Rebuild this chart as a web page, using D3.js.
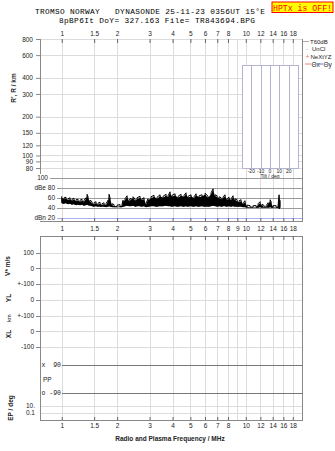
<!DOCTYPE html>
<html><head><meta charset="utf-8">
<script src="https://cdn.jsdelivr.net/npm/d3@7"></script>
<style>
body{margin:0;background:#fff}
svg{display:block}
text{font-family:"Liberation Sans",Arial,sans-serif;fill:#222}
.mono{font-family:"Liberation Mono","DejaVu Sans Mono",monospace;white-space:pre}
</style>
</head><body><svg id="c" width="335" height="451"></svg>
<script>
// ---------- data ----------
const titleLine1 = "TROMSO NORWAY   DYNASONDE 25-11-23 0356UT 15°E";
const titleLine2 = "8pBP6It DoY= 327.163 File= TR843694.BPG";
const freqTicks = [1,1.5,2,3,4,5,6,7,8,10,12,14,16,18];
const freqTicksMid = [1,1.5,2,3,4,5,6,7,8,9,10,12,14,16,18];
const freqGrid = [1,1.5,2,3,4,5,6,7,8,9,10,12,14,16,18];
const heightTicks = [800,600,400,300,200,150,120,100,90,80];
const dbTicks = [100,80,60,40,20];
const dbLabels = ["100","dBe 80","60","40","dBn 20"];
const tiltTicks = [-20,-10,0,10,20];
const velLevels = [3,2,1,0,-1,-2,-3];
const velLabels = ["100","0","+-100","0","+-100","0","-100"];
const ppLevels = [90,-90];
const ppLabels = ["x  90","o -90"];
const epLevels = [10,0.1];
const epLabels = ["10.","0.1"];
const legendNames = ["T60dB","UnCl","NeXtYZ"];
// noise trace (MHz, upper dB, lower dB)
const noiseFreq = [1.00,1.029,1.055,1.082,1.110,1.138,1.166,1.196,1.226,1.257,1.289,1.322,1.356,1.373,1.390,1.425,1.461,1.498,1.536,1.575,1.615,1.656,1.698,1.741,1.785,1.807,1.830,1.877,1.924,1.998,2.074,2.127,2.154,2.208,2.265,2.322,2.381,2.441,2.503,2.566,2.664,2.732,2.801,2.872,2.944,3.057,3.174,3.296,3.422,3.553,3.689,3.782,3.878,3.976,4.128,4.287,4.451,4.621,4.738,4.858,5.044,5.236,5.370,5.575,5.788,6.010,6.239,6.478,6.643,6.811,6.982,7.160,7.341,7.527,7.718,7.914,8.114,8.320,8.531,8.747,8.969,9.196,9.429,9.667,9.913,10.16,10.55,10.96,11.38,11.67,11.96,12.27,12.58,12.90,13.22,13.56,13.73,14.08,14.61,14.98,15.17,15.36];
const noiseHi = [63,60,61,58,60,57,59,56,57,55,57,55,60,67,62,55,52,50,52,49,51,48,50,48,55,67,60,48,46,45,46,47,55,58,64,56,59,62,57,60,63,58,60,49,58,62,65,61,66,63,67,64,72,65,68,63,67,65,70,63,66,62,68,64,66,69,63,70,78,66,64,62,60,62,66,58,61,58,64,58,56,54,56,50,54,45,44,44,44,48,52,47,44,44,50,56,52,44,44,45,66,55];
const noiseLo = [50,49,50,48,49,47,48,46,47,46,47,45,46,47,46,45,44,43,44,43,43,43,43,42,43,44,43,42,42,42,42,42,43,44,45,44,44,45,43,44,44,43,44,42,43,44,44,43,44,44,45,44,44,43,44,43,44,43,44,43,44,43,44,43,44,43,43,44,45,44,43,44,43,44,44,43,44,43,44,43,43,43,43,42,42,41,41,41,41,41,42,41,41,41,41,42,41,41,41,41,38,40];

// ---------- layout ----------
const svg = d3.select("#c");
svg.append("rect").attr("width",335).attr("height",451).attr("fill","#fff");
const L=40, R=302;
const x = d3.scaleLog().domain([0.762,20.2]).range([L,R]);
const yR = d3.scaleLog().domain([800,80]).range([39,168]);
const yDb = d3.scaleLinear().domain([100,20]).range([178,217.5]);
const xt = d3.scaleLinear().domain([-30,30]).range([242,298]);
const yV = d3.scaleLinear().domain([3,-3]).range([252.5,347]);
const yPP = d3.scaleLinear().domain([90,-90]).range([365,393]);
const yEP = d3.scaleLog().domain([10,0.1]).range([405.5,413]);
const topT=39, topB=221, botT=236, botB=420;
const grid="#dcdcdc", frame="#888";

// title
svg.append("text").attr("class","mono").attr("x",35).attr("y",14.3).attr("font-size",7.8)
  .attr("textLength",230).attr("lengthAdjust","spacing").style("fill","#000").text(titleLine1);
svg.append("text").attr("class","mono").attr("x",59).attr("y",22.5).attr("font-size",7.8)
  .attr("textLength",196).attr("lengthAdjust","spacing").style("fill","#000").text(titleLine2);
svg.append("rect").attr("x",272).attr("y",2).attr("width",61).attr("height",10.5)
  .attr("fill","#ffff00").attr("stroke","#ff0000").attr("stroke-width",1);
svg.append("text").attr("class","mono").attr("x",302.5).attr("y",10.6).attr("font-size",8.2)
  .attr("text-anchor","middle").style("fill","#ff0000").text("HPTx is OFF!");

// ---------- top panel gridlines ----------
const g = svg.append("g").attr("shape-rendering","crispEdges");
g.selectAll(".vg").data(freqGrid).join("line")
  .attr("x1",d=>Math.round(x(d))+0.5).attr("x2",d=>Math.round(x(d))+0.5)
  .attr("y1",topT).attr("y2",topB).attr("stroke",grid);
g.selectAll(".hg").data(heightTicks).join("line")
  .attr("x1",L).attr("x2",R).attr("y1",d=>Math.round(yR(d))+0.5).attr("y2",d=>Math.round(yR(d))+0.5)
  .attr("stroke",grid);

// height axis
const ax = svg.append("g").attr("transform",`translate(${L},0)`)
  .call(d3.axisLeft(yR).tickValues(heightTicks).tickFormat(d3.format("d")).tickSize(4).tickPadding(3));
ax.select(".domain").remove();
ax.selectAll("line").attr("stroke",frame);
ax.selectAll("text").attr("font-size",6.5).style("fill","#222").attr("font-family","Liberation Sans");

// top frequency axis
const at = svg.append("g").attr("transform",`translate(0,${topT})`)
  .call(d3.axisTop(x).tickValues(freqTicks).tickFormat(d3.format("~g")).tickSize(-4).tickPadding(3.5));
at.select(".domain").remove();
at.selectAll("line").attr("stroke","#666");
at.selectAll("text").attr("font-size",6.5).style("fill","#222").attr("font-family","Liberation Sans");

// ---------- tilt inset ----------
svg.append("rect").attr("x",xt(-30)).attr("y",65).attr("width",xt(30)-xt(-30)).attr("height",103)
  .attr("fill","#fff").attr("stroke","#b4b4d2").attr("shape-rendering","crispEdges");
svg.selectAll(".tl").data(tiltTicks).join("line")
  .attr("x1",d=>Math.round(xt(d))+0.5).attr("x2",d=>Math.round(xt(d))+0.5).attr("y1",65).attr("y2",168)
  .attr("stroke","#b4b4d2").attr("shape-rendering","crispEdges");
svg.selectAll(".tt").data(tiltTicks).join("text")
  .attr("x",d=>xt(d)).attr("y",172.5).attr("text-anchor","middle").attr("font-size",5).text(d=>d);
svg.append("text").attr("x",xt(0)).attr("y",177.5).attr("text-anchor","middle").attr("font-size",5).text("Tilt / deg");

// ---------- dB panel ----------
svg.selectAll(".dbl").data(dbTicks).join("line")
  .attr("x1",(d,i)=>i===0?50:57).attr("x2",R)
  .attr("y1",d=>Math.round(yDb(d))+0.5).attr("y2",d=>Math.round(yDb(d))+0.5)
  .attr("stroke",d=>d===20?"#a8b0f0":"#9a9a9a").attr("shape-rendering","crispEdges");
svg.selectAll(".dbt").data(dbTicks).join("text")
  .attr("x",(d,i)=>i===0?48:55).attr("y",d=>yDb(d)+2.3).attr("text-anchor","end")
  .attr("font-size",6.5).text((d,i)=>dbLabels[i]);
const noise = noiseFreq.map((f,i)=>({f,hi:noiseHi[i],lo:noiseLo[i]}));
svg.append("path").datum(noise)
  .attr("d",d3.area().x(d=>x(d.f)).y0(d=>yDb(d.lo)+0.5).y1(d=>yDb(d.hi)+1.5))
  .attr("fill","#000").attr("stroke","none");
// jagged min/max envelope trace
const zig = [];
noise.forEach((d,i)=>{ if(i%2===0){zig.push([x(d.f),yDb(d.hi)]);zig.push([x(d.f),yDb(d.lo)]);} else {zig.push([x(d.f),yDb(d.lo)]);zig.push([x(d.f),yDb(d.hi)]);} });
svg.append("path").attr("d",d3.line()(zig)).attr("fill","none").attr("stroke","#000").attr("stroke-width",1);

// top frame
const fr = svg.append("g").attr("stroke",frame).attr("shape-rendering","crispEdges");
fr.append("line").attr("x1",L+0.5).attr("x2",L+0.5).attr("y1",topT).attr("y2",174);
fr.append("line").attr("x1",R+0.5).attr("x2",R+0.5).attr("y1",topT).attr("y2",topB);
fr.append("line").attr("x1",L).attr("x2",R+1).attr("y1",topB+0.5).attr("y2",topB+0.5);

// middle frequency axis
const am = svg.append("g").attr("transform",`translate(0,${topB})`)
  .call(d3.axisBottom(x).tickValues(freqTicksMid).tickFormat(d3.format("~g")).tickSize(-3).tickPadding(5.5));
am.select(".domain").remove();
am.selectAll("line").attr("stroke","#666");
am.selectAll("text").attr("font-size",6.5).style("fill","#222").attr("font-family","Liberation Sans");

// legend
const lg = svg.append("g");
lg.append("line").attr("x1",303).attr("x2",309).attr("y1",41.5).attr("y2",41.5).attr("stroke","#aaa");
lg.append("text").attr("x",310).attr("y",43.5).attr("font-size",6).text(legendNames[0]);
lg.append("text").attr("x",306).attr("y",51).attr("font-size",6).text("·");
lg.append("text").attr("x",312).attr("y",51).attr("font-size",6).text(legendNames[1]);
lg.append("text").attr("x",305.5).attr("y",58.5).attr("font-size",7).style("fill","#f08080").text("+");
lg.append("text").attr("x",310.5).attr("y",58.5).attr("font-size",6).text(legendNames[2]);
lg.append("line").attr("x1",305).attr("x2",311).attr("y1",64).attr("y2",64).attr("stroke","#f08080");
lg.append("text").attr("x",311.5).attr("y",66.5).attr("font-size",6.5).text("Θx");
lg.append("line").attr("x1",318).attr("x2",323).attr("y1",64).attr("y2",64).attr("stroke","#6070e0");
lg.append("text").attr("x",323.5).attr("y",66.5).attr("font-size",6.5).text("Θy");

// axis titles
svg.append("text").attr("transform","translate(16,88) rotate(-90)").attr("text-anchor","middle")
  .attr("font-size",6.5).attr("font-weight","bold").text("R', R / km");

// ---------- bottom panel ----------
const gb = svg.append("g").attr("shape-rendering","crispEdges");
gb.selectAll(".bvg").data(freqGrid).join("line")
  .attr("x1",d=>Math.round(x(d))+0.5).attr("x2",d=>Math.round(x(d))+0.5)
  .attr("y1",botT).attr("y2",botB).attr("stroke",grid);
gb.selectAll(".vh").data(velLevels).join("line")
  .attr("x1",L).attr("x2",R).attr("y1",d=>Math.round(yV(d))+0.5).attr("y2",d=>Math.round(yV(d))+0.5)
  .attr("stroke",grid);
gb.selectAll(".eh").data(epLevels).join("line")
  .attr("x1",L).attr("x2",R).attr("y1",d=>Math.round(yEP(d))+0.5).attr("y2",d=>Math.round(yEP(d))+0.5)
  .attr("stroke",grid);
gb.selectAll(".ph").data(ppLevels).join("line")
  .attr("x1",x(1)).attr("x2",R).attr("y1",d=>Math.round(yPP(d))+0.5).attr("y2",d=>Math.round(yPP(d))+0.5)
  .attr("stroke","#777");
svg.selectAll(".vt").data(velLevels).join("text")
  .attr("x",34).attr("y",d=>yV(d)+2.3).attr("text-anchor","end").attr("font-size",6.5).text((d,i)=>velLabels[i]);
svg.selectAll(".vtk").data(velLevels).join("line")
  .attr("x1",36).attr("x2",L).attr("y1",d=>Math.round(yV(d))+0.5).attr("y2",d=>Math.round(yV(d))+0.5)
  .attr("stroke",frame).attr("shape-rendering","crispEdges");
svg.selectAll(".pt").data(ppLevels).join("text").attr("class","mono")
  .attr("x",61).attr("y",d=>yPP(d)+2.3).attr("text-anchor","end").attr("font-size",6.5)
  .attr("font-family","Liberation Sans").text((d,i)=>ppLabels[i]);
svg.append("text").attr("x",43).attr("y",381.5).attr("font-size",6.5).text("PP");
svg.selectAll(".et").data(epLevels).join("text")
  .attr("x",35).attr("y",d=>yEP(d)+2.3).attr("text-anchor","end").attr("font-size",6.5).text((d,i)=>epLabels[i]);

svg.append("rect").attr("x",L+0.5).attr("y",botT+0.5).attr("width",R-L).attr("height",botB-botT)
  .attr("fill","none").attr("stroke",frame).attr("shape-rendering","crispEdges");

const ab2 = svg.append("g").attr("transform",`translate(0,${botT})`)
  .call(d3.axisBottom(x).tickValues(freqTicks).tickFormat("").tickSize(4));
ab2.select(".domain").remove(); ab2.selectAll("line").attr("stroke","#666");

const ab = svg.append("g").attr("transform",`translate(0,${botB})`)
  .call(d3.axisBottom(x).tickValues(freqTicks).tickFormat(d3.format("~g")).tickSize(-3).tickPadding(3));
ab.select(".domain").remove();
ab.selectAll("line").attr("stroke","#666");
ab.selectAll("text").attr("font-size",6.5).style("fill","#222").attr("font-family","Liberation Sans");

svg.append("text").attr("x",170).attr("y",440.5).attr("text-anchor","middle").attr("font-size",6.5)
  .attr("font-weight","bold").text("Radio and Plasma Frequency / MHz");

svg.append("text").attr("transform","translate(10,266) rotate(-90)").attr("text-anchor","middle")
  .attr("font-size",6.5).attr("font-weight","bold").text("V* m/s");
svg.append("text").attr("transform","translate(11,298) rotate(-90)").attr("text-anchor","middle")
  .attr("font-size",6.5).attr("font-weight","bold").text("YL");
svg.append("text").attr("transform","translate(11,318) rotate(-90)").attr("text-anchor","middle")
  .attr("font-size",5.5).text("km");
svg.append("text").attr("transform","translate(11,334) rotate(-90)").attr("text-anchor","middle")
  .attr("font-size",6.5).attr("font-weight","bold").text("XL");
svg.append("text").attr("transform","translate(13,408) rotate(-90)").attr("text-anchor","middle")
  .attr("font-size",6.5).attr("font-weight","bold").text("EP / deg");
</script>
</body></html>
